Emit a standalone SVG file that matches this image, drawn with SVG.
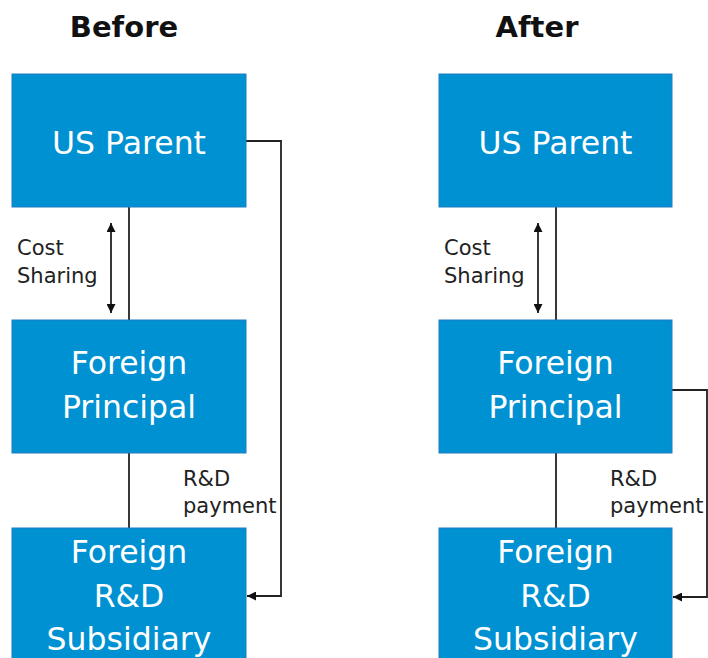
<svg xmlns="http://www.w3.org/2000/svg" width="708" height="658" viewBox="0 0 708 658">
<style>
.box{fill:#0091d2;stroke:#1f7dc0;stroke-width:1}
.bt{font-family:"DejaVu Sans",Verdana,sans-serif;font-size:31.5px;fill:#ffffff;text-anchor:middle}
.lbl{font-family:"DejaVu Sans",Verdana,sans-serif;font-size:21px;fill:#222222}
.hd{font-family:"DejaVu Sans",Verdana,sans-serif;font-size:29px;font-weight:bold;fill:#111111;text-anchor:middle}
.ln{fill:none;stroke:#222222;stroke-width:1.8}
</style>
<defs>
<marker id="ah" viewBox="0 0 10 10" refX="10" refY="5" markerWidth="9" markerHeight="9" markerUnits="userSpaceOnUse" orient="auto-start-reverse">
<path d="M0,0 L10,5 L0,10 z" fill="#111111"/>
</marker>
</defs>
<rect width="708" height="658" fill="#ffffff"/>
<text class="hd" x="124" y="37">Before</text>
<text class="hd" x="537" y="37">After</text>
<g id="connectors">
<line class="ln" x1="129" y1="207" x2="129" y2="320"/>
<line class="ln" x1="129" y1="453" x2="129" y2="528"/>
<line class="ln" x1="111" y1="223" x2="111" y2="313" marker-start="url(#ah)" marker-end="url(#ah)"/>
<polyline class="ln" points="246,141 281,141 281,596 247,596" marker-end="url(#ah)"/>
<line class="ln" x1="556" y1="207" x2="556" y2="320"/>
<line class="ln" x1="556" y1="453" x2="556" y2="528"/>
<line class="ln" x1="538" y1="223" x2="538" y2="313" marker-start="url(#ah)" marker-end="url(#ah)"/>
<polyline class="ln" points="672,390 707,390 707,597 673,597" marker-end="url(#ah)"/>
<text class="lbl" x="17" y="255">Cost</text>
<text class="lbl" x="17" y="283">Sharing</text>
<text class="lbl" x="183" y="486">R&amp;D</text>
<text class="lbl" x="183" y="513">payment</text>
<text class="lbl" x="444" y="255">Cost</text>
<text class="lbl" x="444" y="283">Sharing</text>
<text class="lbl" x="610" y="486">R&amp;D</text>
<text class="lbl" x="610" y="513">payment</text>
</g>
<g id="before-us-parent">
<rect class="box" x="12" y="74" width="234" height="133"/>
<text class="bt" x="129" y="154">US Parent</text>
</g>
<g id="before-foreign-principal">
<rect class="box" x="12" y="320" width="234" height="133"/>
<text class="bt" x="129" y="374">Foreign</text>
<text class="bt" x="129" y="418">Principal</text>
</g>
<g id="before-foreign-rd">
<rect class="box" x="12" y="528" width="234" height="140"/>
<text class="bt" x="129" y="563">Foreign</text>
<text class="bt" x="129" y="607">R&amp;D</text>
<text class="bt" x="129" y="650">Subsidiary</text>
</g>
<g id="after-us-parent">
<rect class="box" x="439" y="74" width="233" height="133"/>
<text class="bt" x="555.5" y="154">US Parent</text>
</g>
<g id="after-foreign-principal">
<rect class="box" x="439" y="320" width="233" height="133"/>
<text class="bt" x="555.5" y="374">Foreign</text>
<text class="bt" x="555.5" y="418">Principal</text>
</g>
<g id="after-foreign-rd">
<rect class="box" x="439" y="528" width="233" height="140"/>
<text class="bt" x="555.5" y="563">Foreign</text>
<text class="bt" x="555.5" y="607">R&amp;D</text>
<text class="bt" x="555.5" y="650">Subsidiary</text>
</g>
</svg>
